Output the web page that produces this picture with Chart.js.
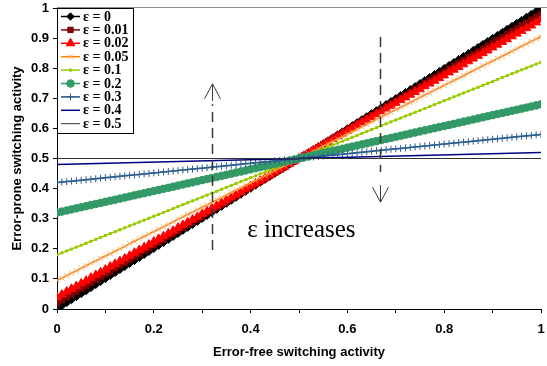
<!DOCTYPE html>
<html>
<head>
<meta charset="utf-8">
<script src="https://cdn.jsdelivr.net/npm/chart.js@4.4.0/dist/chart.umd.min.js"></script>
<style>
    html, body { margin: 0; padding: 0; background: #fff; }
    #wrap { width: 547px; height: 366px; }
</style>
</head>
<body>
<div id="wrap"><canvas id="chart" width="547" height="366"></canvas></div>
<script>
// Error-free switching activity (x values)
const X = [
    0, 0.01, 0.02, 0.03, 0.04, 0.05, 0.06, 0.07, 0.08, 0.09,
    0.10, 0.11, 0.12, 0.13, 0.14, 0.15, 0.16, 0.17, 0.18, 0.19,
    0.20, 0.21, 0.22, 0.23, 0.24, 0.25, 0.26, 0.27, 0.28, 0.29,
    0.30, 0.31, 0.32, 0.33, 0.34, 0.35, 0.36, 0.37, 0.38, 0.39,
    0.40, 0.41, 0.42, 0.43, 0.44, 0.45, 0.46, 0.47, 0.48, 0.49,
    0.50,
    0.51, 0.52, 0.53, 0.54, 0.55, 0.56, 0.57, 0.58, 0.59, 0.60,
    0.61, 0.62, 0.63, 0.64, 0.65, 0.66, 0.67, 0.68, 0.69, 0.70,
    0.71, 0.72, 0.73, 0.74, 0.75, 0.76, 0.77, 0.78, 0.79, 0.80,
    0.81, 0.82, 0.83, 0.84, 0.85, 0.86, 0.87, 0.88, 0.89, 0.90,
    0.91, 0.92, 0.93, 0.94, 0.95, 0.96, 0.97, 0.98, 0.99, 1
];
const X_ENDS = [0, 1];

// Error-prone switching activity, one list per epsilon
const Y_EPS_0 = [
    0, 0.01, 0.02, 0.03, 0.04, 0.05, 0.06, 0.07, 0.08, 0.09,
    0.10, 0.11, 0.12, 0.13, 0.14, 0.15, 0.16, 0.17, 0.18, 0.19,
    0.20, 0.21, 0.22, 0.23, 0.24, 0.25, 0.26, 0.27, 0.28, 0.29,
    0.30, 0.31, 0.32, 0.33, 0.34, 0.35, 0.36, 0.37, 0.38, 0.39,
    0.40, 0.41, 0.42, 0.43, 0.44, 0.45, 0.46, 0.47, 0.48, 0.49,
    0.50,
    0.51, 0.52, 0.53, 0.54, 0.55, 0.56, 0.57, 0.58, 0.59, 0.60,
    0.61, 0.62, 0.63, 0.64, 0.65, 0.66, 0.67, 0.68, 0.69, 0.70,
    0.71, 0.72, 0.73, 0.74, 0.75, 0.76, 0.77, 0.78, 0.79, 0.80,
    0.81, 0.82, 0.83, 0.84, 0.85, 0.86, 0.87, 0.88, 0.89, 0.90,
    0.91, 0.92, 0.93, 0.94, 0.95, 0.96, 0.97, 0.98, 0.99, 1
];
const Y_EPS_001 = [
    0.020, 0.029, 0.039, 0.049, 0.058, 0.068, 0.077, 0.087, 0.097, 0.106,
    0.116, 0.125, 0.135, 0.145, 0.154, 0.164, 0.173, 0.183, 0.193, 0.202,
    0.212, 0.221, 0.231, 0.241, 0.250, 0.260, 0.270, 0.279, 0.289, 0.298,
    0.308, 0.318, 0.327, 0.337, 0.346, 0.356, 0.366, 0.375, 0.385, 0.394,
    0.404, 0.414, 0.423, 0.433, 0.442, 0.452, 0.462, 0.471, 0.481, 0.490,
    0.500,
    0.510, 0.519, 0.529, 0.538, 0.548, 0.558, 0.567, 0.577, 0.586, 0.596,
    0.606, 0.615, 0.625, 0.634, 0.644, 0.654, 0.663, 0.673, 0.682, 0.692,
    0.702, 0.711, 0.721, 0.730, 0.740, 0.750, 0.759, 0.769, 0.779, 0.788,
    0.798, 0.807, 0.817, 0.827, 0.836, 0.846, 0.855, 0.865, 0.875, 0.884,
    0.894, 0.903, 0.913, 0.923, 0.932, 0.942, 0.951, 0.961, 0.971, 0.980
];
const Y_EPS_002 = [
    0.039, 0.048, 0.058, 0.067, 0.076, 0.085, 0.094, 0.104, 0.113, 0.122,
    0.131, 0.141, 0.150, 0.159, 0.168, 0.177, 0.187, 0.196, 0.205, 0.214,
    0.224, 0.233, 0.242, 0.251, 0.260, 0.270, 0.279, 0.288, 0.297, 0.306,
    0.316, 0.325, 0.334, 0.343, 0.353, 0.362, 0.371, 0.380, 0.389, 0.399,
    0.408, 0.417, 0.426, 0.435, 0.445, 0.454, 0.463, 0.472, 0.482, 0.491,
    0.500,
    0.509, 0.518, 0.528, 0.537, 0.546, 0.555, 0.565, 0.574, 0.583, 0.592,
    0.601, 0.611, 0.620, 0.629, 0.638, 0.647, 0.657, 0.666, 0.675, 0.684,
    0.694, 0.703, 0.712, 0.721, 0.730, 0.740, 0.749, 0.758, 0.767, 0.776,
    0.786, 0.795, 0.804, 0.813, 0.823, 0.832, 0.841, 0.850, 0.859, 0.869,
    0.878, 0.887, 0.896, 0.906, 0.915, 0.924, 0.933, 0.942, 0.952, 0.961
];
const Y_EPS_005 = [
    0.095, 0.103, 0.111, 0.119, 0.127, 0.136, 0.144, 0.152, 0.160, 0.168,
    0.176, 0.184, 0.192, 0.200, 0.208, 0.217, 0.225, 0.233, 0.241, 0.249,
    0.257, 0.265, 0.273, 0.281, 0.289, 0.298, 0.306, 0.314, 0.322, 0.330,
    0.338, 0.346, 0.354, 0.362, 0.370, 0.379, 0.387, 0.395, 0.403, 0.411,
    0.419, 0.427, 0.435, 0.443, 0.451, 0.460, 0.468, 0.476, 0.484, 0.492,
    0.500,
    0.508, 0.516, 0.524, 0.532, 0.541, 0.549, 0.557, 0.565, 0.573, 0.581,
    0.589, 0.597, 0.605, 0.613, 0.622, 0.630, 0.638, 0.646, 0.654, 0.662,
    0.670, 0.678, 0.686, 0.694, 0.703, 0.711, 0.719, 0.727, 0.735, 0.743,
    0.751, 0.759, 0.767, 0.775, 0.784, 0.792, 0.800, 0.808, 0.816, 0.824,
    0.832, 0.840, 0.848, 0.856, 0.865, 0.873, 0.881, 0.889, 0.897, 0.905
];
const Y_EPS_01 = [
    0.18, 0.1864, 0.1928, 0.1992, 0.2056, 0.212, 0.2184, 0.2248, 0.2312, 0.2376,
    0.244, 0.2504, 0.2568, 0.2632, 0.2696, 0.276, 0.2824, 0.2888, 0.2952, 0.3016,
    0.308, 0.3144, 0.3208, 0.3272, 0.3336, 0.34, 0.3464, 0.3528, 0.3592, 0.3656,
    0.372, 0.3784, 0.3848, 0.3912, 0.3976, 0.404, 0.4104, 0.4168, 0.4232, 0.4296,
    0.436, 0.4424, 0.4488, 0.4552, 0.4616, 0.468, 0.4744, 0.4808, 0.4872, 0.4936,
    0.5,
    0.5064, 0.5128, 0.5192, 0.5256, 0.532, 0.5384, 0.5448, 0.5512, 0.5576, 0.564,
    0.5704, 0.5768, 0.5832, 0.5896, 0.596, 0.6024, 0.6088, 0.6152, 0.6216, 0.628,
    0.6344, 0.6408, 0.6472, 0.6536, 0.66, 0.6664, 0.6728, 0.6792, 0.6856, 0.692,
    0.6984, 0.7048, 0.7112, 0.7176, 0.724, 0.7304, 0.7368, 0.7432, 0.7496, 0.756,
    0.7624, 0.7688, 0.7752, 0.7816, 0.788, 0.7944, 0.8008, 0.8072, 0.8136, 0.82
];
const Y_EPS_02 = [
    0.32, 0.3236, 0.3272, 0.3308, 0.3344, 0.338, 0.3416, 0.3452, 0.3488, 0.3524,
    0.356, 0.3596, 0.3632, 0.3668, 0.3704, 0.374, 0.3776, 0.3812, 0.3848, 0.3884,
    0.392, 0.3956, 0.3992, 0.4028, 0.4064, 0.41, 0.4136, 0.4172, 0.4208, 0.4244,
    0.428, 0.4316, 0.4352, 0.4388, 0.4424, 0.446, 0.4496, 0.4532, 0.4568, 0.4604,
    0.464, 0.4676, 0.4712, 0.4748, 0.4784, 0.482, 0.4856, 0.4892, 0.4928, 0.4964,
    0.5,
    0.5036, 0.5072, 0.5108, 0.5144, 0.518, 0.5216, 0.5252, 0.5288, 0.5324, 0.536,
    0.5396, 0.5432, 0.5468, 0.5504, 0.554, 0.5576, 0.5612, 0.5648, 0.5684, 0.572,
    0.5756, 0.5792, 0.5828, 0.5864, 0.59, 0.5936, 0.5972, 0.6008, 0.6044, 0.608,
    0.6116, 0.6152, 0.6188, 0.6224, 0.626, 0.6296, 0.6332, 0.6368, 0.6404, 0.644,
    0.6476, 0.6512, 0.6548, 0.6584, 0.662, 0.6656, 0.6692, 0.6728, 0.6764, 0.68
];
const Y_EPS_03 = [
    0.42, 0.4216, 0.4232, 0.4248, 0.4264, 0.428, 0.4296, 0.4312, 0.4328, 0.4344,
    0.436, 0.4376, 0.4392, 0.4408, 0.4424, 0.444, 0.4456, 0.4472, 0.4488, 0.4504,
    0.452, 0.4536, 0.4552, 0.4568, 0.4584, 0.46, 0.4616, 0.4632, 0.4648, 0.4664,
    0.468, 0.4696, 0.4712, 0.4728, 0.4744, 0.476, 0.4776, 0.4792, 0.4808, 0.4824,
    0.484, 0.4856, 0.4872, 0.4888, 0.4904, 0.492, 0.4936, 0.4952, 0.4968, 0.4984,
    0.5,
    0.5016, 0.5032, 0.5048, 0.5064, 0.508, 0.5096, 0.5112, 0.5128, 0.5144, 0.516,
    0.5176, 0.5192, 0.5208, 0.5224, 0.524, 0.5256, 0.5272, 0.5288, 0.5304, 0.532,
    0.5336, 0.5352, 0.5368, 0.5384, 0.54, 0.5416, 0.5432, 0.5448, 0.5464, 0.548,
    0.5496, 0.5512, 0.5528, 0.5544, 0.556, 0.5576, 0.5592, 0.5608, 0.5624, 0.564,
    0.5656, 0.5672, 0.5688, 0.5704, 0.572, 0.5736, 0.5752, 0.5768, 0.5784, 0.58
];
const Y_EPS_04 = [0.48, 0.52];
const Y_EPS_05 = [0.5, 0.5];

const SERIES_LABELS = ['ε = 0', 'ε = 0.01', 'ε = 0.02', 'ε = 0.05', 'ε = 0.1',
                       'ε = 0.2', 'ε = 0.3', 'ε = 0.4', 'ε = 0.5'];

// Annotation placement, in data units
const UP_ARROW = { x: 0.32, from: 0.196, to: 0.68, tip: 0.748 };
const DOWN_ARROW = { x: 0.667, from: 0.904, to: 0.455, tip: 0.355 };
const NOTE = { x: 0.505, y: 0.262, text: 'ε increases' };

const AXIS_FONT = { family: 'Arial, "Liberation Sans", sans-serif', size: 13, weight: 'bold' };
const SERIF = '"Times New Roman", "Liberation Serif", serif';

// Pair x and y lists into points
function toPoints(xs, ys) {
    return ys.map((y, i) => ({ x: xs[i], y: y }));
}

// Build one dataset
function makeSeries(idx, xs, ys, style) {
    return Object.assign({
        label: SERIES_LABELS[idx],
        data: toPoints(xs, ys),
        borderWidth: 1.5,
        pointBorderWidth: 1,
        pointRadius: 0,
        pointStyle: 'circle',
        tension: 0,
        order: SERIES_LABELS.length - idx
    }, style);
}

const datasets = [
    makeSeries(0, X, Y_EPS_0, {
        borderColor: '#000000', pointBackgroundColor: '#000000', pointBorderColor: '#000000',
        pointStyle: 'rectRot', pointRadius: 3.7
    }),
    makeSeries(1, X, Y_EPS_001, {
        borderColor: '#800000', pointBackgroundColor: '#800000', pointBorderColor: '#800000',
        pointStyle: 'rect', pointRadius: 3.8
    }),
    makeSeries(2, X, Y_EPS_002, {
        borderColor: '#FF0000', pointBackgroundColor: '#FF0000', pointBorderColor: '#FF0000',
        pointStyle: 'triangle', pointRadius: 5
    }),
    makeSeries(3, X, Y_EPS_005, {
        borderColor: '#FF8000', pointBackgroundColor: '#FFA860', pointBorderColor: '#FFA860',
        pointStyle: 'crossRot', pointRadius: 3.5
    }),
    makeSeries(4, X, Y_EPS_01, {
        borderColor: '#99CC00', pointBackgroundColor: '#99CC00', pointBorderColor: '#99CC00',
        pointStyle: 'rect', pointRadius: 1.5
    }),
    makeSeries(5, X, Y_EPS_02, {
        borderColor: '#339966', pointBackgroundColor: '#339966', pointBorderColor: '#339966',
        pointStyle: 'circle', pointRadius: 3.8
    }),
    makeSeries(6, X, Y_EPS_03, {
        borderColor: '#1F4E79', pointBackgroundColor: '#2F5F95', pointBorderColor: '#2F5F95',
        pointStyle: 'cross', pointRadius: 3.5
    }),
    makeSeries(7, X_ENDS, Y_EPS_04, { borderColor: '#000080', borderWidth: 1.5 }),
    makeSeries(8, X_ENDS, Y_EPS_05, { borderColor: '#333333', borderWidth: 1 })
];

// Gray frame line on top of the plot area
const plotFrame = {
    id: 'plotFrame',
    beforeDatasetsDraw(chart) {
        const { ctx, chartArea: a } = chart;
        ctx.save();
        ctx.strokeStyle = '#8c8c8c';
        ctx.lineWidth = 1;
        ctx.beginPath();
        ctx.moveTo(a.left, a.top - 0.5);
        ctx.lineTo(chart.width, a.top - 0.5);
        ctx.stroke();
        ctx.restore();
    }
};

// Dashed guides with arrows and the note
const guides = {
    id: 'guides',
    afterDatasetsDraw(chart) {
        const { ctx, scales: { x, y } } = chart;
        ctx.save();
        ctx.strokeStyle = '#3a3a3a';

        [UP_ARROW, DOWN_ARROW].forEach(g => {
            const px = Math.round(x.getPixelForValue(g.x)) + 0.5;
            ctx.lineWidth = 1.5;
            ctx.setLineDash([10, 6]);
            ctx.beginPath();
            ctx.moveTo(px, y.getPixelForValue(g.from));
            ctx.lineTo(px, y.getPixelForValue(g.to));
            ctx.stroke();

            const tip = y.getPixelForValue(g.tip);
            const dir = g.tip > g.from ? 1 : -1; // 1 = points up
            ctx.setLineDash([]);
            ctx.lineWidth = 1;
            ctx.beginPath();
            ctx.moveTo(px, tip);
            ctx.lineTo(px, tip + dir * 17);
            ctx.moveTo(px - 8, tip + dir * 15);
            ctx.lineTo(px, tip);
            ctx.lineTo(px + 8, tip + dir * 15);
            ctx.stroke();
        });

        ctx.fillStyle = '#000';
        ctx.font = '25px ' + SERIF;
        ctx.textAlign = 'center';
        ctx.textBaseline = 'middle';
        ctx.fillText(NOTE.text, x.getPixelForValue(NOTE.x), y.getPixelForValue(NOTE.y));
        ctx.restore();
    }
};

// Boxed legend in the top-left corner of the plot
const legendBox = {
    id: 'legendBox',
    afterDatasetsDraw(chart) {
        const { ctx, chartArea: a } = chart;
        const x0 = a.left, y0 = a.top;
        ctx.save();
        ctx.fillStyle = '#fff';
        ctx.fillRect(x0, y0, 76, 125);
        ctx.strokeStyle = '#000';
        ctx.lineWidth = 1;
        ctx.strokeRect(x0 + 0.5, y0 + 0.5, 76, 125);

        chart.data.datasets.forEach((ds, i) => {
            const ly = y0 + 8.5 + i * 13.4;
            ctx.strokeStyle = ds.borderColor;
            ctx.lineWidth = ds.borderWidth;
            ctx.beginPath();
            ctx.moveTo(x0 + 4, ly);
            ctx.lineTo(x0 + 23, ly);
            ctx.stroke();
            if (ds.pointRadius > 0) {
                ctx.fillStyle = ds.pointBackgroundColor;
                ctx.strokeStyle = ds.pointBorderColor;
                ctx.lineWidth = 1;
                Chart.helpers.drawPoint(ctx, {
                    pointStyle: ds.pointStyle, radius: ds.pointRadius,
                    rotation: 0, borderWidth: 1
                }, x0 + 13.5, ly);
            }
            ctx.fillStyle = '#000';
            ctx.font = 'bold 14px ' + SERIF;
            ctx.textAlign = 'left';
            ctx.textBaseline = 'middle';
            ctx.fillText(ds.label, x0 + 26, ly + 0.5);
        });
        ctx.restore();
    }
};

// Tick label formatting
function tickLabel(v) {
    if (Math.abs(v) < 1e-9) return '0';
    if (Math.abs(v - 1) < 1e-9) return '1';
    return v.toFixed(1);
}

new Chart(document.getElementById('chart'), {
    type: 'line',
    data: { datasets: datasets },
    plugins: [plotFrame, guides, legendBox],
    options: {
        responsive: false,
        animation: false,
        events: [],
        layout: { padding: { top: 8, right: 0, left: 0, bottom: 0 } },
        plugins: {
            legend: { display: false },
            tooltip: { enabled: false }
        },
        scales: {
            x: {
                type: 'linear',
                min: 0,
                max: 1,
                afterFit: scale => {
                    scale.height = 57;
                    scale.paddingLeft = 0;
                    scale.paddingRight = 0;
                },
                border: { display: true, color: '#000', width: 1 },
                grid: { drawOnChartArea: false, drawTicks: true, tickLength: 4, color: '#000' },
                ticks: {
                    stepSize: 0.1,
                    autoSkip: false,
                    maxRotation: 0,
                    padding: 9,
                    color: '#000',
                    font: AXIS_FONT,
                    callback: v => (Math.round(v * 10) % 2 === 0 ? tickLabel(v) : '')
                },
                title: {
                    display: true,
                    text: 'Error-free switching activity',
                    color: '#000',
                    font: AXIS_FONT,
                    padding: { top: 0, bottom: 6 }
                }
            },
            y: {
                min: 0,
                max: 1,
                afterFit: scale => {
                    scale.width = 57;
                    scale.paddingTop = 0;
                    scale.paddingBottom = 0;
                },
                border: { display: true, color: '#000', width: 1 },
                grid: { drawOnChartArea: false, drawTicks: true, tickLength: 4, color: '#000' },
                ticks: {
                    stepSize: 0.1,
                    autoSkip: false,
                    padding: 4,
                    color: '#000',
                    font: AXIS_FONT,
                    callback: v => tickLabel(v)
                },
                title: {
                    display: true,
                    text: 'Error-prone switching activity',
                    color: '#000',
                    font: AXIS_FONT,
                    padding: { top: 10, bottom: 0 }
                }
            }
        }
    }
});
</script>
</body>
</html>
